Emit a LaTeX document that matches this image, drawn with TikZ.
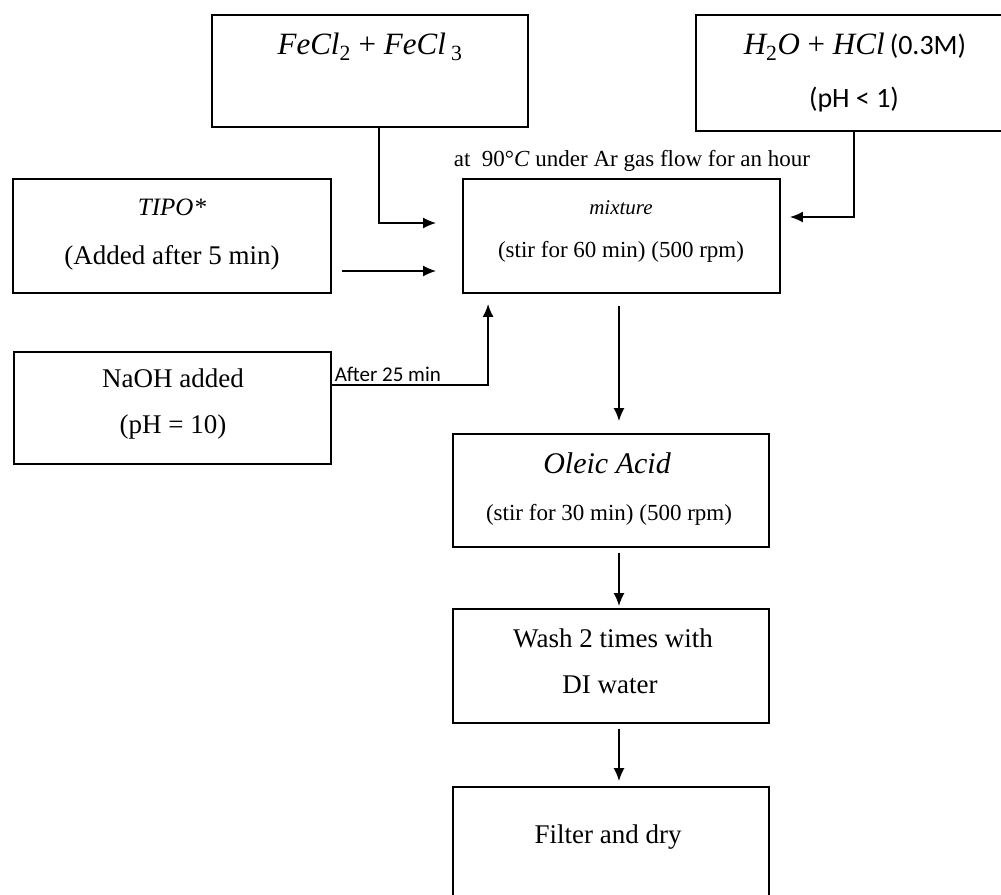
\documentclass[tikz,border=0pt]{standalone}
\usepackage{fontspec}
\setmainfont{Liberation Serif}
\newfontfamily\calibrifont{Carlito}
\usepackage{tikz}
\usetikzlibrary{arrows.meta,calc,positioning}
\newcommand\sub[1]{\textsubscript{\upshape#1}}
\tikzset{
>={Latex[length=13pt,width=11pt]},
stage box/.style={
  draw=black,
  line width=1.8pt,
  minimum width=316pt,
  minimum height=114pt,
  inner sep=0pt
},
fig flow/.style={draw=black,->,line width=1.8pt},
body label/.style={font=\fontsize{27}{30}\selectfont, inner sep=0pt},
small label/.style={font=\fontsize{23}{26}\selectfont, inner sep=0pt},
math label/.style={font=\itshape\fontsize{31}{34}\selectfont, inner sep=0pt},
sans label/.style={font=\calibrifont\fontsize{28}{31}\selectfont, inner sep=0pt}
}

\begin{document}
\begin{tikzpicture}[x=1pt,y=-1pt]
\useasboundingbox (0,0) rectangle (1001,894);
% boxes
\node[stage box,minimum height=112pt] (fecl) at (370,71) {};
\node[stage box,minimum height=116pt] (acid) at (854,73) {};
\node[stage box,minimum width=318pt] (tipo) at (172,236) {};
\node[stage box,minimum width=317pt] (mix) at (621.5,236) {};
\node[stage box,minimum width=317pt,minimum height=112pt] (naoh) at (172.5,408) {};
\node[stage box,minimum height=113pt] (oleic) at (611,490.5) {};
\node[stage box] (wash) at (611,666) {};
\node[stage box] (filter) at (611,844) {};
% texts
\node[math label] (fecl-t) at (370,47) {FeCl\sub{2} {\upshape+} FeCl\,\sub{3}};
\node[math label] (acid-t) at (855,47) {H\sub{2}O {\upshape+} HCl\,{\upshape\calibrifont\fontsize{28}{31}\selectfont(0.3M)}};
\node[sans label] (acid-ph) at (854,100) {(pH < 1)};
\node[small label,font=\fontsize{23}{26}\selectfont] (cond) at (632,161) {at\ \ 90\textdegree\textit{C} under Ar gas flow for an hour};
\node[math label,font=\itshape\fontsize{21}{23}\selectfont] (mix-t) at (621,208) {mixture};
\node[small label] (mix-s) at (621,252) {(stir for 60 min) (500 rpm)};
\node[math label,font=\itshape\fontsize{25}{27}\selectfont] (tipo-t) at (172,207) {TIPO*};
\node[body label] (tipo-s) at (172,258) {(Added after 5 min)};
\node[body label] (naoh-t) at (173,378) {NaOH added};
\node[body label] (naoh-s) at (173,427) {(pH = 10)};
\node[math label,font=\itshape\fontsize{30}{33}\selectfont] (oleic-t) at (607,463) {Oleic Acid};
\node[small label] (oleic-s) at (609,515) {(stir for 30 min) (500 rpm)};
\node[body label] (wash-t) at (613,638) {Wash 2 times with};
\node[body label] (wash-s) at (610,685) {DI water};
\node[body label] (filter-t) at (608,837) {Filter and dry};
% connectors
\draw[fig flow] ([xshift=168pt]fecl.south west) |- ([shift={(-26,-13)}]mix.west);
\draw[fig flow] ([shift={(10,35)}]tipo.east) -- ([shift={(-26,35)}]mix.west);
\draw[fig flow] ([xshift=159pt]acid.south west) |- ([shift={(9,-19)}]mix.east);
\draw[fig flow] ([shift={(0,-23)}]naoh.east) -| ([shift={(26,10)}]mix.south west)
  node[pos=0,above right,inner sep=2pt,font=\calibrifont\fontsize{21}{23}\selectfont] (naoh-l) {After 25 min};
\draw[fig flow] ([shift={(-2.5,12)}]mix.south) -- ([shift={(8,-12)}]oleic.north);
\draw[fig flow] ([shift={(8,5)}]oleic.south) -- ([shift={(8,-2)}]wash.north);
\draw[fig flow] ([shift={(8,5)}]wash.south) -- ([shift={(8,-5)}]filter.north);
\end{tikzpicture}
\end{document}
